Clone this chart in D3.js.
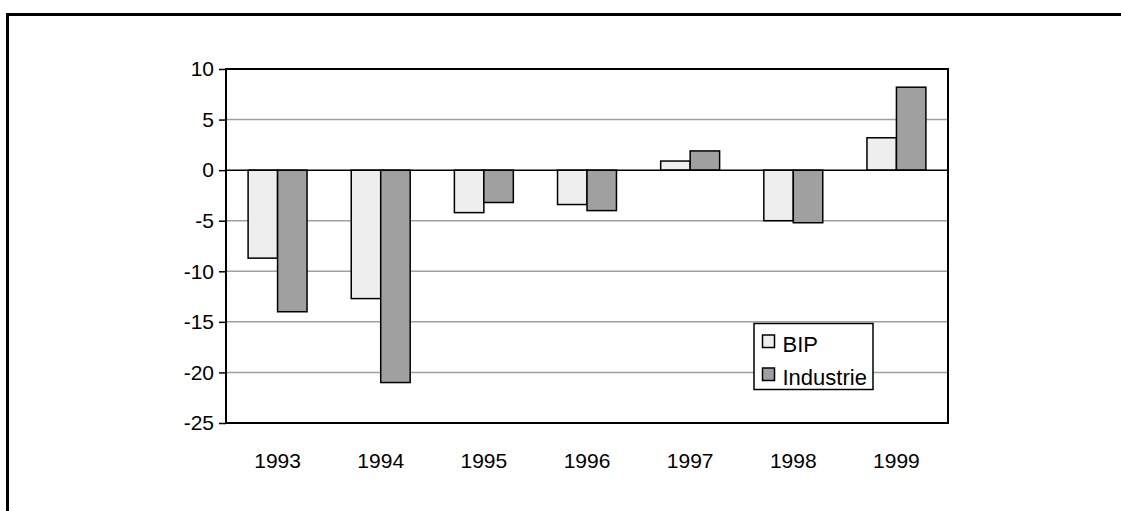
<!DOCTYPE html>
<html><head><meta charset="utf-8">
<script src="https://cdn.jsdelivr.net/npm/d3@7"></script>
<style>html,body{margin:0;padding:0;background:#fff;}svg{display:block;font-family:"Liberation Sans",Arial,sans-serif;}</style>
</head><body>
<svg id="c" width="1121" height="511"></svg>
<script>
const years = ["1993","1994","1995","1996","1997","1998","1999"];
const seriesNames = ["BIP","Industrie"];
const bip = [-8.7,-12.7,-4.2,-3.4,0.9,-5.0,3.2];
const industrie = [-14.0,-21.0,-3.2,-4.0,1.9,-5.2,8.2];
const yTicks = [10,5,0,-5,-10,-15,-20,-25];
const colors = ["#eeeeee","#a0a0a0"];

const svg = d3.select("#c");
const L=226, R=948, T=69, B=423;
const fs = 21;
const ff = "Liberation Sans, Arial, sans-serif";

// outer frame
svg.append("rect").attr("x",7.5).attr("y",14.5).attr("width",1200).attr("height",600)
  .attr("fill","none").attr("stroke","#000").attr("stroke-width",3);

const x0 = d3.scaleBand().domain(years).range([L,R]).paddingInner(0).paddingOuter(0);
const bw = x0.bandwidth();
const barW = bw/3.5;
const x1 = d3.scaleBand().domain(seriesNames).range([0.75*barW, bw-0.75*barW]).padding(0);
const y = d3.scaleLinear().domain([-25,10]).range([B,T]);

// gridlines
svg.append("g").selectAll("line").data(yTicks.filter(v=>v!==10 && v!==-25 && v!==0)).join("line")
  .attr("x1",L).attr("x2",R).attr("y1",d=>y(d)).attr("y2",d=>y(d))
  .attr("stroke","#a0a0a0").attr("stroke-width",1.5);

const data = years.map((yr,i)=>({year:yr, vals:[bip[i],industrie[i]]}));
const g = svg.append("g");
data.forEach(d=>{
  d.vals.forEach((v,j)=>{
    g.append("rect")
      .attr("x",x0(d.year)+x1(seriesNames[j]))
      .attr("width",x1.bandwidth())
      .attr("y",y(Math.max(0,v)))
      .attr("height",Math.abs(y(v)-y(0)))
      .attr("fill",colors[j]).attr("stroke","#000").attr("stroke-width",1.5);
  });
});

// zero line
svg.append("line").attr("x1",L).attr("x2",R).attr("y1",y(0)).attr("y2",y(0)).attr("stroke","#000").attr("stroke-width",1.5);

// plot frame
svg.append("rect").attr("x",L).attr("y",T).attr("width",R-L).attr("height",B-T)
  .attr("fill","none").attr("stroke","#000").attr("stroke-width",2);

// y axis
const ya = svg.append("g").attr("transform",`translate(${L},0)`)
  .call(d3.axisLeft(y).tickValues(yTicks).tickSize(7).tickPadding(5).tickFormat(d=>String(d)));
ya.select(".domain").remove();
ya.selectAll("line").attr("stroke","#000").attr("stroke-width",1.5);
ya.selectAll("text").attr("font-size",fs).attr("fill","#000").attr("font-family",ff);

// x axis
const xa = svg.append("g").attr("transform",`translate(0,${B})`)
  .call(d3.axisBottom(x0).tickSize(0).tickPadding(30));
xa.select(".domain").remove();
xa.selectAll("text").attr("font-size",fs).attr("fill","#000").attr("font-family",ff);

// legend
const lg = svg.append("g");
lg.append("rect").attr("x",754).attr("y",323.5).attr("width",119).attr("height",66)
  .attr("fill","#fff").attr("stroke","#000").attr("stroke-width",1.5);
seriesNames.forEach((n,i)=>{
  const yy = 335 + i*33;
  lg.append("rect").attr("x",762.5).attr("y",yy).attr("width",12).attr("height",12.5)
    .attr("fill",colors[i]).attr("stroke","#000").attr("stroke-width",1.5);
  lg.append("text").attr("x",782.5).attr("y",yy+16.8).attr("font-size",22).attr("font-family",ff).attr("fill","#000").text(n);
});
</script>
</body></html>
